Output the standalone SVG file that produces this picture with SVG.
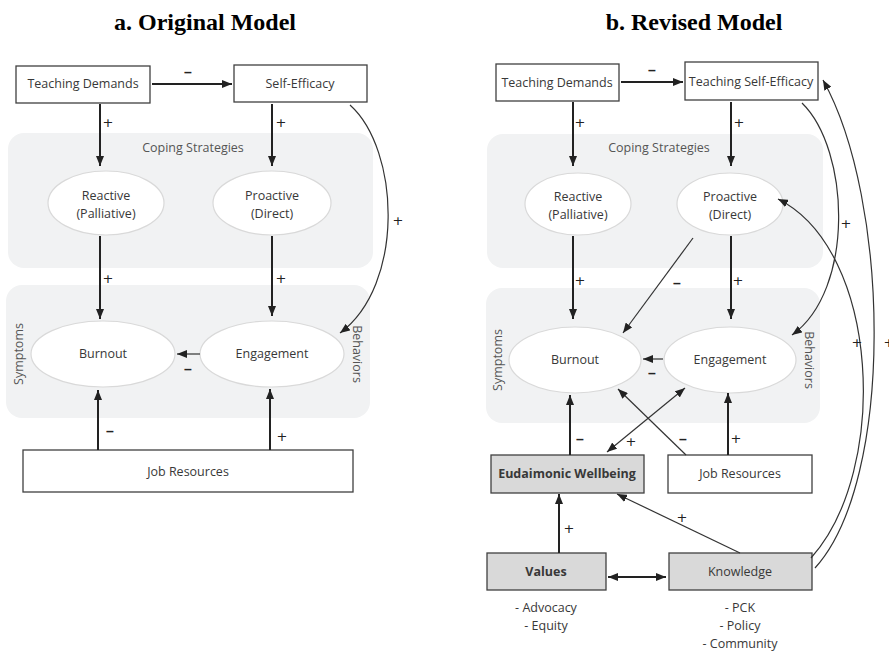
<svg xmlns="http://www.w3.org/2000/svg" width="889" height="654" viewBox="0 0 889 654">
<style>
.bg{fill:#fff}
.box{fill:#fff;stroke:#404040;stroke-width:1.3}
.gbox{fill:#d9d9d9;stroke:#404040;stroke-width:1.3}
.panel{fill:#f1f2f3}
.ell{fill:#fff;stroke:#d9d9d9;stroke-width:1.2}
.t{font-family:"Open Sans","Liberation Sans",sans-serif;font-size:12.5px;fill:#383838;text-anchor:middle}
.tb{font-weight:bold}
.lbl{font-family:"Open Sans","Liberation Sans",sans-serif;font-size:12.5px;fill:#555;text-anchor:middle}
.title{font-family:"Liberation Serif",serif;font-weight:bold;font-size:24px;text-anchor:middle;fill:#000}
.thick{stroke:#222;stroke-width:2;fill:none;marker-end:url(#ah)}
.thin{stroke:#333;stroke-width:1.2;fill:none;marker-end:url(#ah)}
.dbl{marker-start:url(#ahs)}
.sign{font-family:"DejaVu Sans",sans-serif;font-size:13px;fill:#222;text-anchor:middle}
.minus{font-family:"Liberation Sans",sans-serif;font-size:14px;font-weight:bold;fill:#222;text-anchor:middle}
</style>
<defs>
<marker id="ah" markerUnits="userSpaceOnUse" markerWidth="10" markerHeight="8" refX="10" refY="4" orient="auto">
<path d="M0,0 L10,4 L0,8 z" fill="#222"/>
</marker>
<marker id="ahs" markerUnits="userSpaceOnUse" markerWidth="10" markerHeight="8" refX="10" refY="4" orient="auto-start-reverse">
<path d="M0,0 L10,4 L0,8 z" fill="#222"/>
</marker>
</defs>
<rect class="bg" x="0" y="0" width="889" height="654"/>

<g id="titles">
<text class="title" x="205" y="30">a. Original Model</text>
<text class="title" x="694" y="30">b. Revised Model</text>
</g>

<!-- ===== Panel a ===== -->
<g id="a-coping-panel">
<rect class="panel" x="8" y="133" width="365" height="135" rx="16"/>
<text class="lbl" x="193" y="152">Coping Strategies</text>
</g>
<g id="a-outcome-panel">
<rect class="panel" x="6" y="285" width="364" height="133" rx="16"/>
<text class="lbl" transform="translate(23,354) rotate(-90)">Symptoms</text>
<text class="lbl" transform="translate(353,354) rotate(90)">Behaviors</text>
</g>
<g id="a-teaching-demands">
<rect class="box" x="16" y="66" width="134" height="37"/>
<text class="t" x="83" y="88">Teaching Demands</text>
</g>
<g id="a-self-efficacy">
<rect class="box" x="234" y="65" width="133" height="37"/>
<text class="t" x="300" y="88">Self-Efficacy</text>
</g>
<g id="a-reactive">
<ellipse class="ell" cx="106" cy="203" rx="58" ry="32"/>
<text class="t" x="106" y="200">Reactive</text>
<text class="t" x="106" y="218">(Palliative)</text>
</g>
<g id="a-proactive">
<ellipse class="ell" cx="272" cy="203" rx="59" ry="32"/>
<text class="t" x="272" y="200">Proactive</text>
<text class="t" x="272" y="218">(Direct)</text>
</g>
<g id="a-burnout">
<ellipse class="ell" cx="103" cy="354" rx="72" ry="33"/>
<text class="t" x="103" y="358">Burnout</text>
</g>
<g id="a-engagement">
<ellipse class="ell" cx="272" cy="354" rx="72" ry="33"/>
<text class="t" x="272" y="358">Engagement</text>
</g>
<g id="a-job-resources">
<rect class="box" x="23" y="450" width="330" height="42"/>
<text class="t" x="188" y="476">Job Resources</text>
</g>

<g id="a-connectors">
<path class="thick" d="M152,84 L232,84"/>
<text class="minus" x="188" y="77">–</text>
<path class="thick" d="M100,104 L100,166"/>
<text class="sign" x="108" y="127">+</text>
<path class="thick" d="M272,104 L272,166"/>
<text class="sign" x="281" y="127">+</text>
<path class="thick" d="M100,236 L100,319"/>
<text class="sign" x="108" y="283">+</text>
<path class="thick" d="M272,236 L272,316"/>
<text class="sign" x="281" y="283">+</text>
<path class="thin" d="M200,354 L177,354"/>
<text class="minus" x="188" y="374">–</text>
<path class="thick" d="M98,450 L98,390"/>
<text class="minus" x="110" y="436">–</text>
<path class="thick" d="M270,450 L270,389"/>
<text class="sign" x="282" y="441">+</text>
<path class="thin" d="M350,105 C400,150 405,285 340,333"/>
<text class="sign" x="398" y="225">+</text>
</g>

<!-- ===== Panel b ===== -->
<g id="b-coping-panel">
<rect class="panel" x="487" y="134" width="336" height="134" rx="16"/>
<text class="lbl" x="659" y="152">Coping Strategies</text>
</g>
<g id="b-outcome-panel">
<rect class="panel" x="486" y="288" width="334" height="135" rx="16"/>
<text class="lbl" transform="translate(502,360) rotate(-90)">Symptoms</text>
<text class="lbl" transform="translate(805,360) rotate(90)">Behaviors</text>
</g>
<g id="b-teaching-demands">
<rect class="box" x="496" y="64" width="123" height="37"/>
<text class="t" x="557" y="87">Teaching Demands</text>
</g>
<g id="b-teaching-self-efficacy">
<rect class="box" x="685" y="62" width="133" height="38"/>
<text class="t" x="751" y="86">Teaching Self-Efficacy</text>
</g>
<g id="b-reactive">
<ellipse class="ell" cx="578" cy="204" rx="53" ry="31"/>
<text class="t" x="578" y="201">Reactive</text>
<text class="t" x="578" y="219">(Palliative)</text>
</g>
<g id="b-proactive">
<ellipse class="ell" cx="730" cy="204" rx="53" ry="31"/>
<text class="t" x="730" y="201">Proactive</text>
<text class="t" x="730" y="219">(Direct)</text>
</g>
<g id="b-burnout">
<ellipse class="ell" cx="575" cy="360" rx="66" ry="33"/>
<text class="t" x="575" y="364">Burnout</text>
</g>
<g id="b-engagement">
<ellipse class="ell" cx="730" cy="360" rx="66" ry="33"/>
<text class="t" x="730" y="364">Engagement</text>
</g>
<g id="b-eudaimonic-wellbeing">
<rect class="gbox" x="491" y="455" width="153" height="38"/>
<text class="t tb" x="567" y="478">Eudaimonic Wellbeing</text>
</g>
<g id="b-job-resources">
<rect class="box" x="668" y="455" width="144" height="38"/>
<text class="t" x="740" y="478">Job Resources</text>
</g>
<g id="b-values">
<rect class="gbox" x="487" y="553" width="119" height="37"/>
<text class="t tb" x="546" y="576">Values</text>
<text class="t" x="546" y="612">- Advocacy</text>
<text class="t" x="546" y="630">- Equity</text>
</g>
<g id="b-knowledge">
<rect class="gbox" x="669" y="553" width="143" height="37"/>
<text class="t" x="740" y="576">Knowledge</text>
<text class="t" x="740" y="612">- PCK</text>
<text class="t" x="740" y="630">- Policy</text>
<text class="t" x="740" y="648">- Community</text>
</g>

<g id="b-connectors">
<path class="thick" d="M621,82 L683,82"/>
<text class="minus" x="652" y="75">–</text>
<path class="thick" d="M573,102 L573,166"/>
<text class="sign" x="580" y="127">+</text>
<path class="thick" d="M731,102 L731,166"/>
<text class="sign" x="739" y="127">+</text>
<path class="thick" d="M573,236 L573,319"/>
<text class="sign" x="580" y="285">+</text>
<path class="thick" d="M731,236 L731,319"/>
<text class="sign" x="738" y="285">+</text>
<path class="thin" d="M693,238 L623,333"/>
<text class="minus" x="677" y="288">–</text>
<path class="thin" d="M663,359 L643,359"/>
<text class="minus" x="652" y="378">–</text>
<path class="thick" d="M570,455 L570,395"/>
<text class="minus" x="580" y="444">–</text>
<path class="thin dbl" d="M607,452 L685,388"/>
<text class="sign" x="631" y="446">+</text>
<path class="thin" d="M686,455 L618,389"/>
<text class="minus" x="683" y="444">–</text>
<path class="thick" d="M728,455 L728,393"/>
<text class="sign" x="736" y="443">+</text>
<path class="thick" d="M559,553 L559,494"/>
<text class="sign" x="569" y="533">+</text>
<path class="thin" d="M740,553 L617,494"/>
<text class="sign" x="682" y="522">+</text>
<path class="thick dbl" d="M608,577 L666,577"/>
<path class="thin" d="M802,103 C850,150 855,290 792,335"/>
<text class="sign" x="846" y="228">+</text>
<path class="thin" d="M811,558 C890,470 880,250 778,199"/>
<text class="sign" x="857" y="347">+</text>
<path class="thin" d="M815,568 C895,480 890,200 823,80"/>
<text class="sign" x="889" y="347">+</text>
</g>
</svg>
